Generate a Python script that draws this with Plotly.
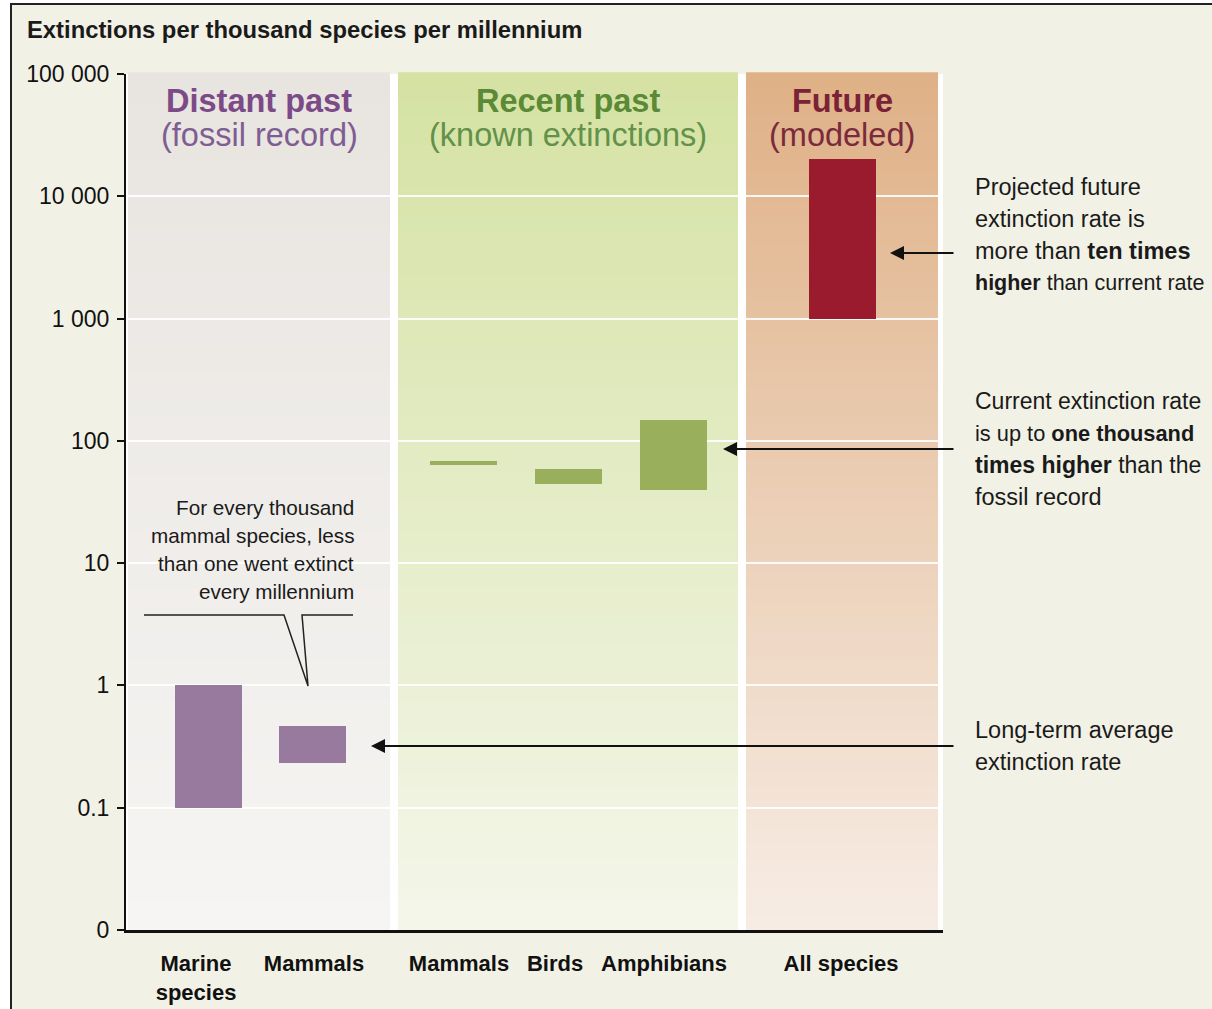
import plotly.graph_objects as go

# ---------------- data ----------------
categories = ["Marine<br>species", "Mammals", "Mammals", "Birds", "Amphibians", "All species"]
periods = ["Distant past", "Distant past", "Recent past", "Recent past", "Recent past", "Future"]
rate_low = [0.1, 0.23, 64, 44, 40, 1000]
rate_high = [1.0, 0.47, 68, 59, 148, 20000]
ytick_vals = [0.01, 0.1, 1, 10, 100, 1000, 10000, 100000]
ytick_text = ["0", "0.1", "1", "10", "100", "1 000", "10 000", "100 000"]

# ---------------- layout constants ----------------
W, H = 1212, 1009
PL, PR, PT, PB = 126, 943, 74, 930          # plot area in px
XR = (PR - PL) / 100.0                        # x range in units of 100 px
def px2x(px): return (px - PL) / 100.0
def py2p(py): return (PB - py) / (PB - PT)

bar_pos = [px2x(p) for p in [208.5, 312.5, 463.5, 568.5, 673.5, 842]]
label_pos = [px2x(p) for p in [196, 314, 459, 555, 664, 841]]
bar_width = 0.67
period_color = {"Distant past": "#977A9D", "Recent past": "#9AAF5C", "Future": "#9B1B2E"}

panels = [
    # x0px, x1px, top colour, bottom colour, title, subtitle, title colour, sub colour
    (128, 390, (232, 228, 224), (246, 245, 243), "Distant past", "(fossil record)", "#7B4A87", "#7E5D92"),
    (398, 738, (213, 226, 163), (244, 246, 234), "Recent past", "(known extinctions)", "#5A8A36", "#63914A"),
    (746, 938, (223, 176, 134), (247, 237, 229), "Future", "(modeled)", "#7A2236", "#7A2A3C"),
]

FONT = "Liberation Sans, Arial, sans-serif"
CREAM = "#F2F1E6"

fig = go.Figure()

for p, lo, hi, per in zip(bar_pos, rate_low, rate_high, periods):
    fig.add_trace(go.Bar(
        x=[p], y=[hi - lo], base=[lo], width=bar_width,
        marker=dict(color=period_color[per], line=dict(width=0)),
        showlegend=False, hoverinfo="skip",
    ))

shapes = []
# gradient panels
N = 60
for x0, x1, ctop, cbot, *_ in panels:
    for i in range(N):
        t = (i + 0.5) / N
        c = tuple(int(round(cbot[k] + (ctop[k] - cbot[k]) * t)) for k in range(3))
        shapes.append(dict(type="rect", xref="x", yref="paper",
                           x0=px2x(x0), x1=px2x(x1), y0=i / N, y1=(i + 1) / N + 0.002,
                           fillcolor="rgb(%d,%d,%d)" % c, line=dict(width=0), layer="below"))

# white strips outside frame
shapes.append(dict(type="rect", xref="paper", yref="paper",
                   x0=px2x(-50) / XR, x1=px2x(11) / XR, y0=-0.2, y1=1.3,
                   fillcolor="white", line=dict(width=0), layer="below"))
shapes.append(dict(type="rect", xref="paper", yref="paper",
                   x0=px2x(-50) / XR, x1=px2x(1300) / XR, y0=py2p(4), y1=1.3,
                   fillcolor="white", line=dict(width=0), layer="below"))
# outer frame
shapes.append(dict(type="rect", xref="paper", yref="paper",
                   x0=px2x(11) / XR, x1=px2x(1300) / XR, y0=py2p(1100), y1=py2p(4),
                   fillcolor="rgba(0,0,0,0)", line=dict(color="#222", width=2), layer="above"))

# speech-bubble callout line
pts = [(144, 615), (284, 615), (308, 686), (302, 615), (353, 615)]
path = "M " + " L ".join("%.4f,%.4f" % (px2x(a), py2p(b)) for a, b in pts)
shapes.append(dict(type="path", xref="x", yref="paper", path=path,
                   line=dict(color="#222", width=1.5), layer="above"))

annotations = []
# panel headings
for x0, x1, ctop, cbot, title, sub, tc, sc in panels:
    cx = px2x((x0 + x1) / 2)
    annotations.append(dict(x=cx, y=py2p(101), xref="x", yref="paper", text="<b>%s</b>" % title,
                            xanchor="center", yanchor="middle",
                            showarrow=False, font=dict(size=32.5, color=tc, family=FONT)))
    annotations.append(dict(x=cx, y=py2p(135), xref="x", yref="paper", text=sub,
                            xanchor="center", yanchor="middle",
                            showarrow=False, font=dict(size=32.5, color=sc, family=FONT)))

def text_block(lines, x_px, y_first, dy, sizes, anchor):
    for i, ln in enumerate(lines):
        annotations.append(dict(x=(x_px - PL) / (PR - PL), y=py2p(y_first + i * dy),
                                xref="paper", yref="paper", text=ln, showarrow=False,
                                xanchor=anchor, yanchor="middle",
                                font=dict(size=sizes[i], color="#1a1a1a", family=FONT)))

text_block(["For every thousand", "mammal species, less", "than one went extinct", "every millennium"],
           356, 507, 28, [20.7] * 4, "right")
text_block(["Projected future", "extinction rate is", "more than <b>ten times</b>",
            "<b>higher</b> than current rate"], 973, 187, 32, [23.5, 23.5, 23.5, 21.5], "left")
text_block(["Current extinction rate", "is up to <b>one thousand</b>", "<b>times higher</b> than the",
            "fossil record"], 973, 401, 32, [23, 21.8, 23, 23.5], "left")
text_block(["Long-term average", "extinction rate"], 973, 730, 32, [23.5, 23.5], "left")

# arrows
for head_px, y_px in [(890, 253), (723, 449), (371, 746)]:
    annotations.append(dict(x=px2x(head_px), y=py2p(y_px), xref="x", yref="paper",
                            ax=955 - head_px, ay=0, text="", showarrow=True,
                            arrowhead=2, arrowsize=1.4, arrowwidth=2, arrowcolor="#111"))

fig.update_layout(
    width=W, height=H, autosize=False,
    margin=dict(l=PL, r=W - PR, t=PT, b=H - PB, pad=0, autoexpand=False),
    paper_bgcolor=CREAM, plot_bgcolor="white",
    barmode="overlay", bargap=0,
    shapes=shapes, annotations=annotations,
    title=dict(text="<b>Extinctions per thousand species per millennium</b>",
               x=27 / W, xanchor="left", y=1 - 30 / H, yanchor="middle", xref="container", yref="container",
               font=dict(size=23.8, color="#1a1a1a", family=FONT)),
    font=dict(family=FONT, color="#1a1a1a"),
    xaxis=dict(range=[0, XR], showgrid=False, zeroline=False, automargin=False,
               tickvals=label_pos, ticktext=["<b>%s</b>" % c for c in categories],
               ticks="", showline=True, linecolor="#111", linewidth=3,
               tickfont=dict(size=22, family=FONT, color="#111"), ticklabelstandoff=12),
    yaxis=dict(type="log", range=[-2, 5], tickvals=ytick_vals, ticktext=ytick_text, automargin=False,
               showgrid=True, gridcolor="rgba(255,255,255,0.9)", gridwidth=1.5, zeroline=False,
               ticks="outside", ticklen=7, tickwidth=2, tickcolor="#111",
               showline=True, linecolor="#111", linewidth=2, ticklabelstandoff=3,
               tickfont=dict(size=23, family=FONT, color="#111")),
)

fig.write_html("out.html",
               config={"displayModeBar": False, "responsive": False},
               post_script="document.body.style.margin='0';")
